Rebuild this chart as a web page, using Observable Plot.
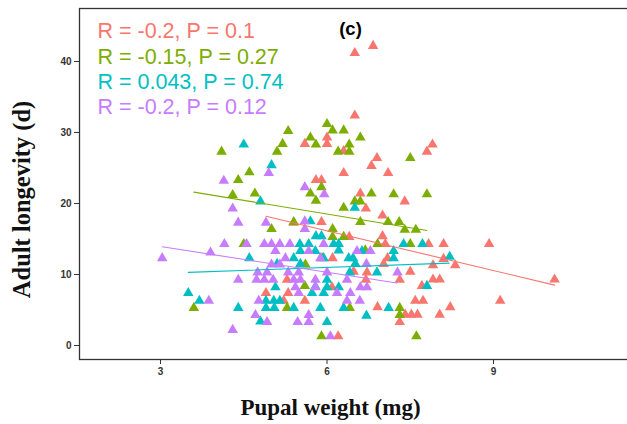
<!DOCTYPE html>
<html><head><meta charset="utf-8">
<script src="https://cdn.jsdelivr.net/npm/d3@7"></script>
<script src="https://cdn.jsdelivr.net/npm/@observablehq/plot@0.6"></script>
<style>
html,body{margin:0;padding:0;background:#fff;overflow:hidden;}
#chart svg{overflow:hidden;display:block;}
</style></head><body><div id="chart"></div>
<script>
const groups = ["G1", "G2", "G3", "G4"];
const colors = ["#F8766D", "#7CAE00", "#00BFC4", "#C77CFF"];
const statLabels = ["R = -0.2, P = 0.1", "R = -0.15, P = 0.27", "R = 0.043, P = 0.74", "R = -0.2, P = 0.12"];
const panelTag = "(c)";
const xTitle = "Pupal weight (mg)";
const yTitle = "Adult longevity (d)";
const xTicks = [3, 6, 9];
const yTicks = [0, 10, 20, 30, 40];

const redPts = [[6.5,41.2],[6.83,42.2],[6.5,32.4],[6.0,29.3],[6.0,28.4],[5.6,28.4],[6.3,27.4],[7.9,28.3],[7.8,27.3],[6.9,26.4],[6.8,25.3],[7.1,24.3],[6.3,24.3],[5.8,23.3],[5.9,23.3],[6.6,21.4],[7.4,20.3],[6.7,19.3],[7.0,18.3],[5.9,17.4],[5.4,17.3],[6.4,15.3],[7.0,15.4],[7.05,14.3],[7.83,14.3],[8.1,14.3],[8.92,14.3],[7.09,12.3],[6.1,12.3],[8.1,12.2],[8.31,11.3],[7.91,11.3],[7.02,11.5],[6.51,11.5],[7.5,10.4],[6.48,10.4],[6.72,10.3],[7.91,9.3],[8.03,9.3],[7.31,9.25],[6.7,9.25],[5.28,9.25],[7.71,8.4],[6.09,8.2],[4.9,7.4],[5.3,7.4],[5.6,6.3],[5.22,6.3],[7.59,6.3],[7.73,6.3],[9.12,6.3],[6.91,5.4],[8.22,5.4],[7.41,4.35],[7.52,4.35],[7.63,4.35],[8.03,4.35],[7.31,3.3],[6.2,1.3],[10.1,9.3]];
const greenPts = [[6.0,31.2],[6.1,30.3],[5.3,30.2],[6.3,30.3],[5.7,29.3],[6.6,29.3],[5.2,28.4],[5.8,28.3],[6.4,28.3],[5.1,27.3],[6.2,27.3],[6.4,27.3],[4.1,27.3],[7.5,26.4],[4.6,24.4],[4.4,23.3],[4.3,21.2],[4.7,21.4],[5.9,22.3],[5.7,21.4],[5.8,20.4],[6.8,21.4],[7.2,21.3],[7.8,21.3],[6.5,20.3],[6.6,20.3],[6.3,19.4],[5.4,17.4],[6.6,17.4],[7.1,17.4],[7.3,17.4],[5.0,16.4],[6.1,16.4],[7.4,16.3],[7.6,16.3],[6.1,15.3],[6.3,15.3],[4.5,14.3],[6.91,14.3],[7.5,14.3],[6.69,13.4],[5.91,12.3],[5.61,11.4],[5.6,8.4],[3.6,5.3],[5.28,5.3],[6.41,5.3],[7.31,5.3],[7.31,4.3],[5.9,1.3],[7.61,1.3]];
const cyanPts = [[4.5,28.3],[5.0,25.4],[4.8,20.3],[6.5,19.4],[5.7,17.5],[5.8,15.4],[5.9,15.4],[5.51,14.3],[5.67,14.3],[6.12,14.3],[6.21,14.3],[7.38,14.3],[7.72,14.3],[5.52,13.3],[5.79,13.3],[6.21,13.4],[6.63,13.3],[7.2,13.3],[4.6,12.3],[5.4,12.3],[5.94,12.3],[6.39,12.3],[6.47,12.3],[7.2,12.3],[8.21,12.5],[5.1,11.5],[5.52,11.5],[6.51,11.5],[6.41,10.3],[6.9,10.3],[6.0,9.25],[5.07,8.2],[6.0,8.2],[6.21,8.2],[5.79,8.3],[7.8,8.4],[3.5,7.4],[5.73,7.4],[5.94,7.4],[3.7,6.3],[4.9,6.3],[5.04,6.3],[5.15,6.3],[4.4,5.3],[4.9,5.3],[5.05,5.3],[5.4,5.3],[5.88,5.3],[6.3,5.3],[7.11,5.3],[6.71,4.2],[4.8,3.4],[6.0,3.3]];
const purplePts = [[4.14,23.2],[4.95,24.3],[5.6,22.3],[5.95,21.3],[4.3,19.3],[4.4,17.3],[4.9,17.3],[5.6,17.5],[5.6,16.4],[3.03,12.3],[3.9,13.1],[4.15,14.3],[4.55,14.3],[4.87,14.3],[5.0,14.3],[5.15,14.3],[5.33,14.3],[5.94,14.3],[5.07,13.3],[5.67,13.3],[6.54,13.3],[6.78,13.3],[5.25,12.3],[5.88,12.3],[5.0,11.4],[5.15,11.4],[6.71,11.5],[4.75,10.3],[4.92,10.3],[5.3,10.3],[5.49,10.3],[6.0,10.3],[7.27,10.3],[4.4,9.25],[4.73,9.25],[4.87,9.25],[5.03,9.25],[5.4,9.25],[5.52,9.25],[5.79,9.25],[6.36,9.25],[5.43,8.2],[5.79,8.2],[6.6,8.2],[6.72,8.2],[5.49,7.4],[6.18,7.4],[6.42,7.4],[3.87,6.3],[4.77,6.3],[6.36,6.3],[6.59,6.3],[4.71,4.3],[5.67,4.3],[4.92,3.3],[5.47,3.3],[5.67,3.3],[4.3,2.2],[6.06,1.3]];

// fitted regression line endpoints
const redFit = [[4.9,18.2],[10.1,8.5]];
const greenFit = [[3.6,21.6],[7.8,16.2]];
const cyanFit = [[3.5,10.3],[8.2,11.6]];
const purpleFit = [[3.03,13.9],[7.26,8.8]];

const allPts = [redPts, greenPts, cyanPts, purplePts];
const allFits = [redFit, greenFit, cyanFit, purpleFit];
const points = allPts.flatMap((pts, i) => pts.map(([x, y]) => ({x, y, g: groups[i]})));
const fits = allFits.flatMap((pts, i) => pts.map(([x, y]) => ({x, y, g: groups[i]})));

const sans = "'Liberation Sans', Arial, sans-serif";
const serif = "'Liberation Serif', 'Times New Roman', serif";

const plot = Plot.plot({
  width: 627,
  height: 424,
  marginLeft: 79,
  marginRight: -2,
  marginTop: 8,
  marginBottom: 65,
  x: {domain: [1.54, 11.45]},
  y: {domain: [-1.97, 47.46]},
  color: {domain: groups, range: colors},
  style: {fontFamily: sans, background: "#fff"},
  marks: [
    Plot.axisX(xTicks, {tickSize: 5, tickPadding: 3, label: null, fontSize: 10, fontWeight: "bold", color: "#333"}),
    Plot.axisY(yTicks, {tickSize: 5, tickPadding: 3, label: null, fontSize: 10, fontWeight: "bold", color: "#333"}),
    Plot.dot(points, {x: "x", y: "y", fill: "g", symbol: "triangle", r: 3.9}),
    Plot.line(fits, {x: "x", y: "y", z: "g", stroke: "g", strokeWidth: 1.1}),
    Plot.frame({stroke: "#333", strokeWidth: 1.3}),
    ...statLabels.map((t, i) => Plot.text([t], {
      frameAnchor: "top-left", dx: 18, dy: 23 + 25.3 * i,
      textAnchor: "start", lineAnchor: "middle",
      fill: colors[i], fontSize: 21.5, fontFamily: sans
    })),
    Plot.text([panelTag], {frameAnchor: "top-left", dx: 271, dy: 21, textAnchor: "middle", lineAnchor: "middle", fontSize: 18.5, fontWeight: "bold", fill: "#000", fontFamily: sans}),
    Plot.text([xTitle], {frameAnchor: "bottom-left", dx: 251, dy: 48, textAnchor: "middle", lineAnchor: "middle", fontSize: 23, fontWeight: "bold", fill: "#111", fontFamily: serif}),
    Plot.text([yTitle], {frameAnchor: "top-left", dx: -57, dy: 191, rotate: -90, textAnchor: "middle", lineAnchor: "middle", fontSize: 24.5, fontWeight: "bold", fill: "#111", fontFamily: serif})
  ]
});
document.getElementById("chart").appendChild(plot);
</script>
</body></html>
